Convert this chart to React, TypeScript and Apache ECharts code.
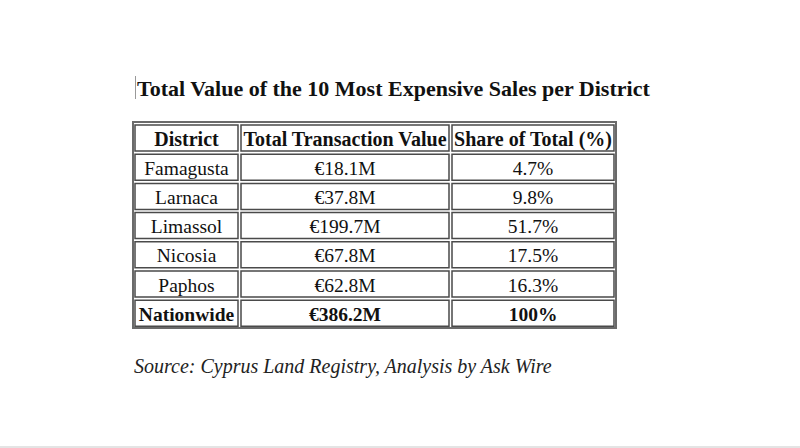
import React, { useEffect, useRef } from "react";
import * as echarts from "echarts";

const title = "Total Value of the 10 Most Expensive Sales per District";
const headers = ["District", "Total Transaction Value", "Share of Total (%)"];
const districts = ["Famagusta", "Larnaca", "Limassol", "Nicosia", "Paphos", "Nationwide"];
const values = ["€18.1M", "€37.8M", "€199.7M", "€67.8M", "€62.8M", "€386.2M"];
const shares = ["4.7%", "9.8%", "51.7%", "17.5%", "16.3%", "100%"];
const source = "Source: Cyprus Land Registry, Analysis by Ask Wire";

const FONT = "'Liberation Serif', 'DejaVu Serif', serif";

export default function App() {
  const ref = useRef<HTMLDivElement>(null);
  useEffect(() => {
    if (!ref.current) return;
    const chart = echarts.init(ref.current, undefined, { renderer: "svg" });
    const cols = [
      [135, 238],
      [241, 449],
      [452, 614],
    ];
    const rowTop0 = 125;
    const pitch = 29.2;
    const cellH = 26;
    const rows: string[][] = [headers];
    districts.forEach((d, i) => rows.push([d, values[i], shares[i]]));
    const elements: any[] = [];
    elements.push({
      type: "rect",
      shape: { x: 133, y: 122, width: 483, height: 206 },
      style: { fill: "#fff", stroke: "#6a6a6a", lineWidth: 2 },
    });
    rows.forEach((r, ri) => {
      const top = rowTop0 + ri * pitch;
      const isHeader = ri === 0;
      const bold = isHeader || ri === rows.length - 1;
      r.forEach((txt, ci) => {
        const [x0, x1] = cols[ci];
        elements.push({
          type: "rect",
          shape: { x: x0, y: top, width: x1 - x0, height: cellH },
          style: { fill: "#fff", stroke: "#4a4a4a", lineWidth: 1.5 },
        });
        elements.push({
          type: "text",
          x: (x0 + x1) / 2,
          y: top + cellH / 2 + 1,
          style: {
            text: txt,
            fill: "#111",
            font: `${bold ? "bold " : ""}${isHeader ? 20 : 19.5}px ${FONT}`,
            align: "center",
            verticalAlign: "middle",
          },
        });
      });
    });
    elements.push({
      type: "line",
      shape: { x1: 135.5, y1: 76, x2: 135.5, y2: 99 },
      style: { stroke: "#999", lineWidth: 1 },
    });
    elements.push({
      type: "text",
      x: 137,
      y: 88,
      style: {
        text: title,
        fill: "#111",
        font: `bold 22px ${FONT}`,
        align: "left",
        verticalAlign: "middle",
      },
    });
    elements.push({
      type: "text",
      x: 134,
      y: 366,
      style: {
        text: source,
        fill: "#222",
        font: `italic 20px ${FONT}`,
        align: "left",
        verticalAlign: "middle",
      },
    });
    elements.push({
      type: "rect",
      shape: { x: 0, y: 446, width: 800, height: 2 },
      style: { fill: "#e4e4e4" },
    });
    chart.setOption({
      animation: false,
      backgroundColor: "#fff",
      graphic: { elements },
    });
    return () => chart.dispose();
  }, []);
  return (
    <div
      ref={ref}
      style={{ position: "absolute", left: 0, top: 0, width: 800, height: 448 }}
    />
  );
}
